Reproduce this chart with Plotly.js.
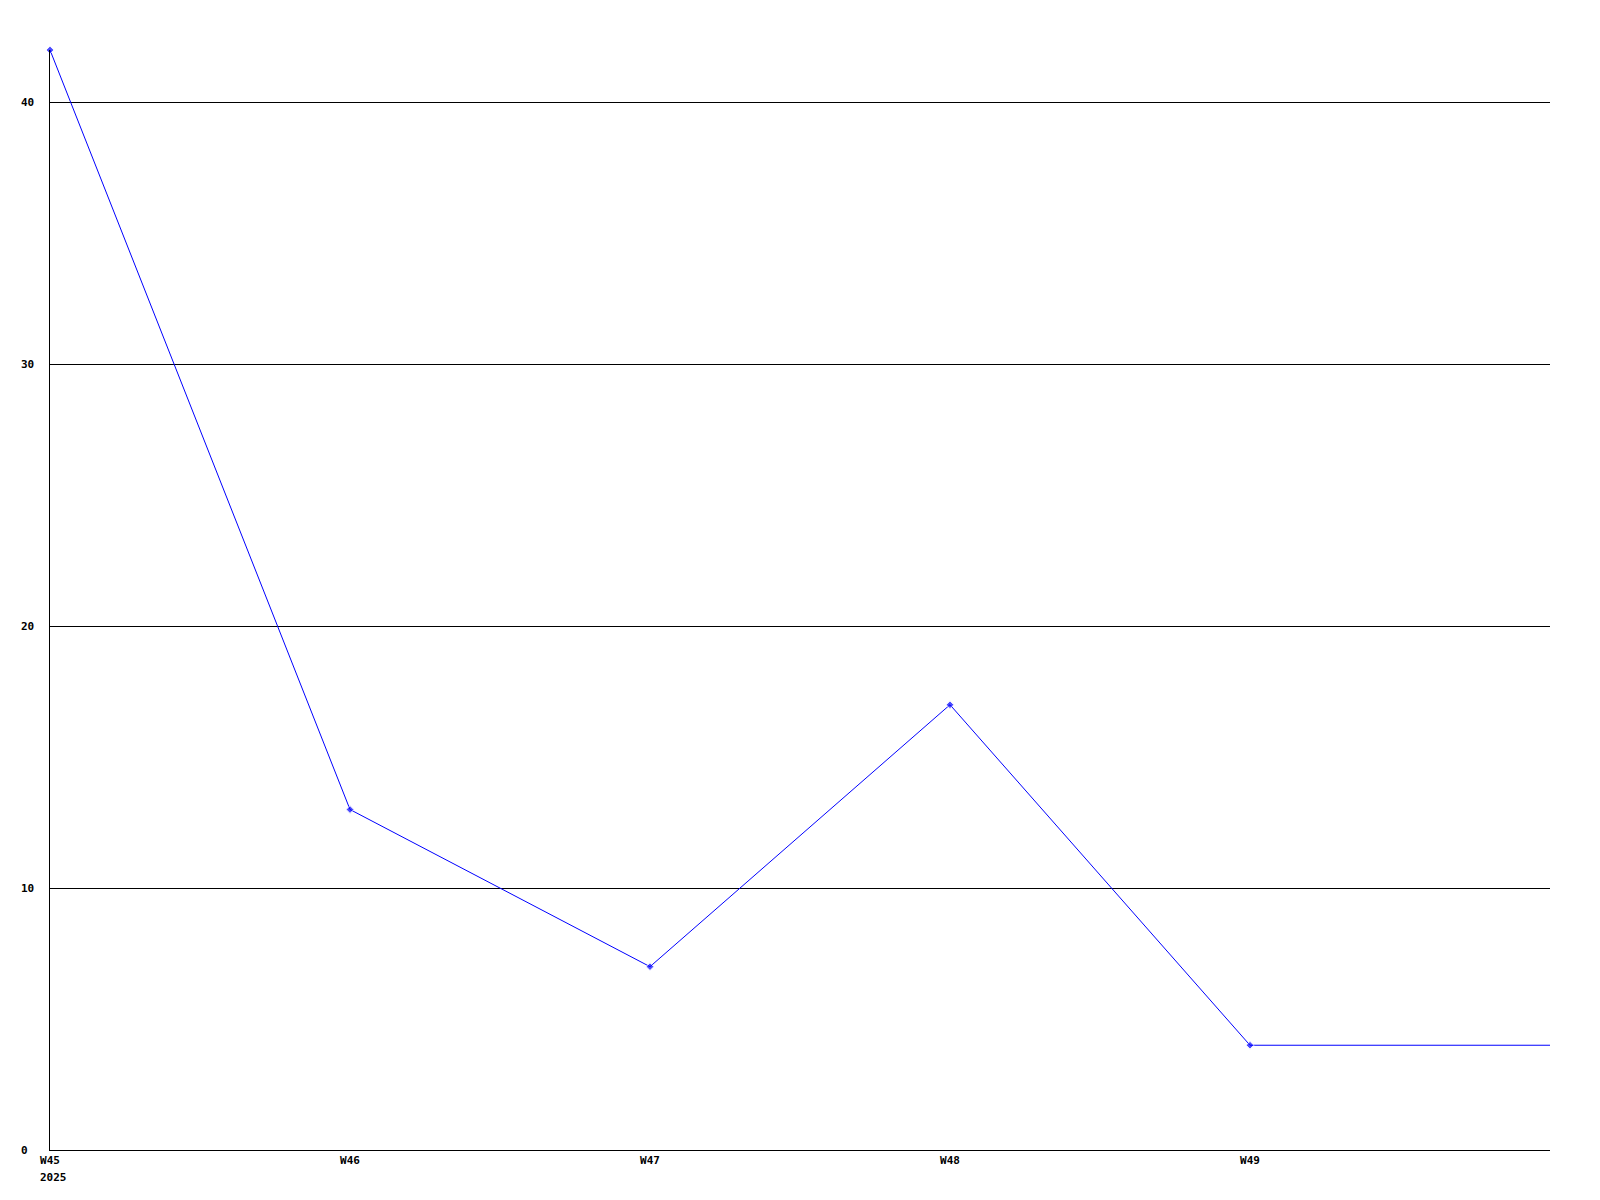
<!DOCTYPE html>
<html>
<head>
<meta charset="utf-8">
<script src="https://cdn.plot.ly/plotly-3.0.1.min.js"></script>
<style>html,body{margin:0;padding:0;background:#fff;}#chart{width:1600px;height:1200px;}</style>
</head>
<body>
<div id="chart"></div>
<script>
// Data
const weekLabels = ["W45", "W46", "W47", "W48", "W49"];
const yearLabel = "2025";
const xIndex = [0, 1, 2, 3, 4, 5];
const values = [42, 13, 7, 17, 4, 4];
const markerShown = [1, 1, 1, 1, 1, 0];
const yTicks = [0, 10, 20, 30, 40];

const font = {family: "DejaVu Sans Mono, Liberation Mono, monospace", size: 11, color: "#000", weight: "bold"};

const trace = {
  x: xIndex,
  y: values,
  type: "scatter",
  mode: "lines+markers",
  cliponaxis: false,
  line: {color: "#0000ff", width: 1},
  marker: {
    symbol: "diamond",
    size: markerShown.map(v => v ? 6 : 0),
    color: "#0000ff"
  },
  hoverinfo: "skip"
};

const annotations = yTicks.map(v => ({
  xref: "paper", yref: "y", x: 0, y: v,
  text: String(v), showarrow: false,
  xanchor: "left", yanchor: "middle", xshift: -31,
  font: font
}));
annotations.push({
  xref: "x", yref: "paper", x: 0, y: 0,
  text: yearLabel, showarrow: false,
  xanchor: "left", yanchor: "middle", xshift: -12, yshift: -27,
  font: font
});

const layout = {
  width: 1600, height: 1200,
  margin: {l: 50, r: 50, t: 50, b: 50, pad: 0},
  paper_bgcolor: "#fff", plot_bgcolor: "#fff",
  showlegend: false,
  xaxis: {
    range: [0, 5],
    tickvals: weekLabels.map((_, i) => i),
    ticktext: weekLabels,
    showgrid: false, zeroline: false,
    showline: true, linecolor: "#000", linewidth: 1,
    ticks: "", tickfont: font, fixedrange: true
  },
  yaxis: {
    range: [0, 42],
    tickvals: yTicks,
    showticklabels: false,
    showgrid: true, gridcolor: "#000", gridwidth: 1,
    zeroline: false,
    showline: true, linecolor: "#000", linewidth: 1,
    ticks: "", fixedrange: true
  },
  annotations: annotations
};

Plotly.newPlot("chart", [trace], layout, {displayModeBar: false, staticPlot: true});
</script>
</body>
</html>
